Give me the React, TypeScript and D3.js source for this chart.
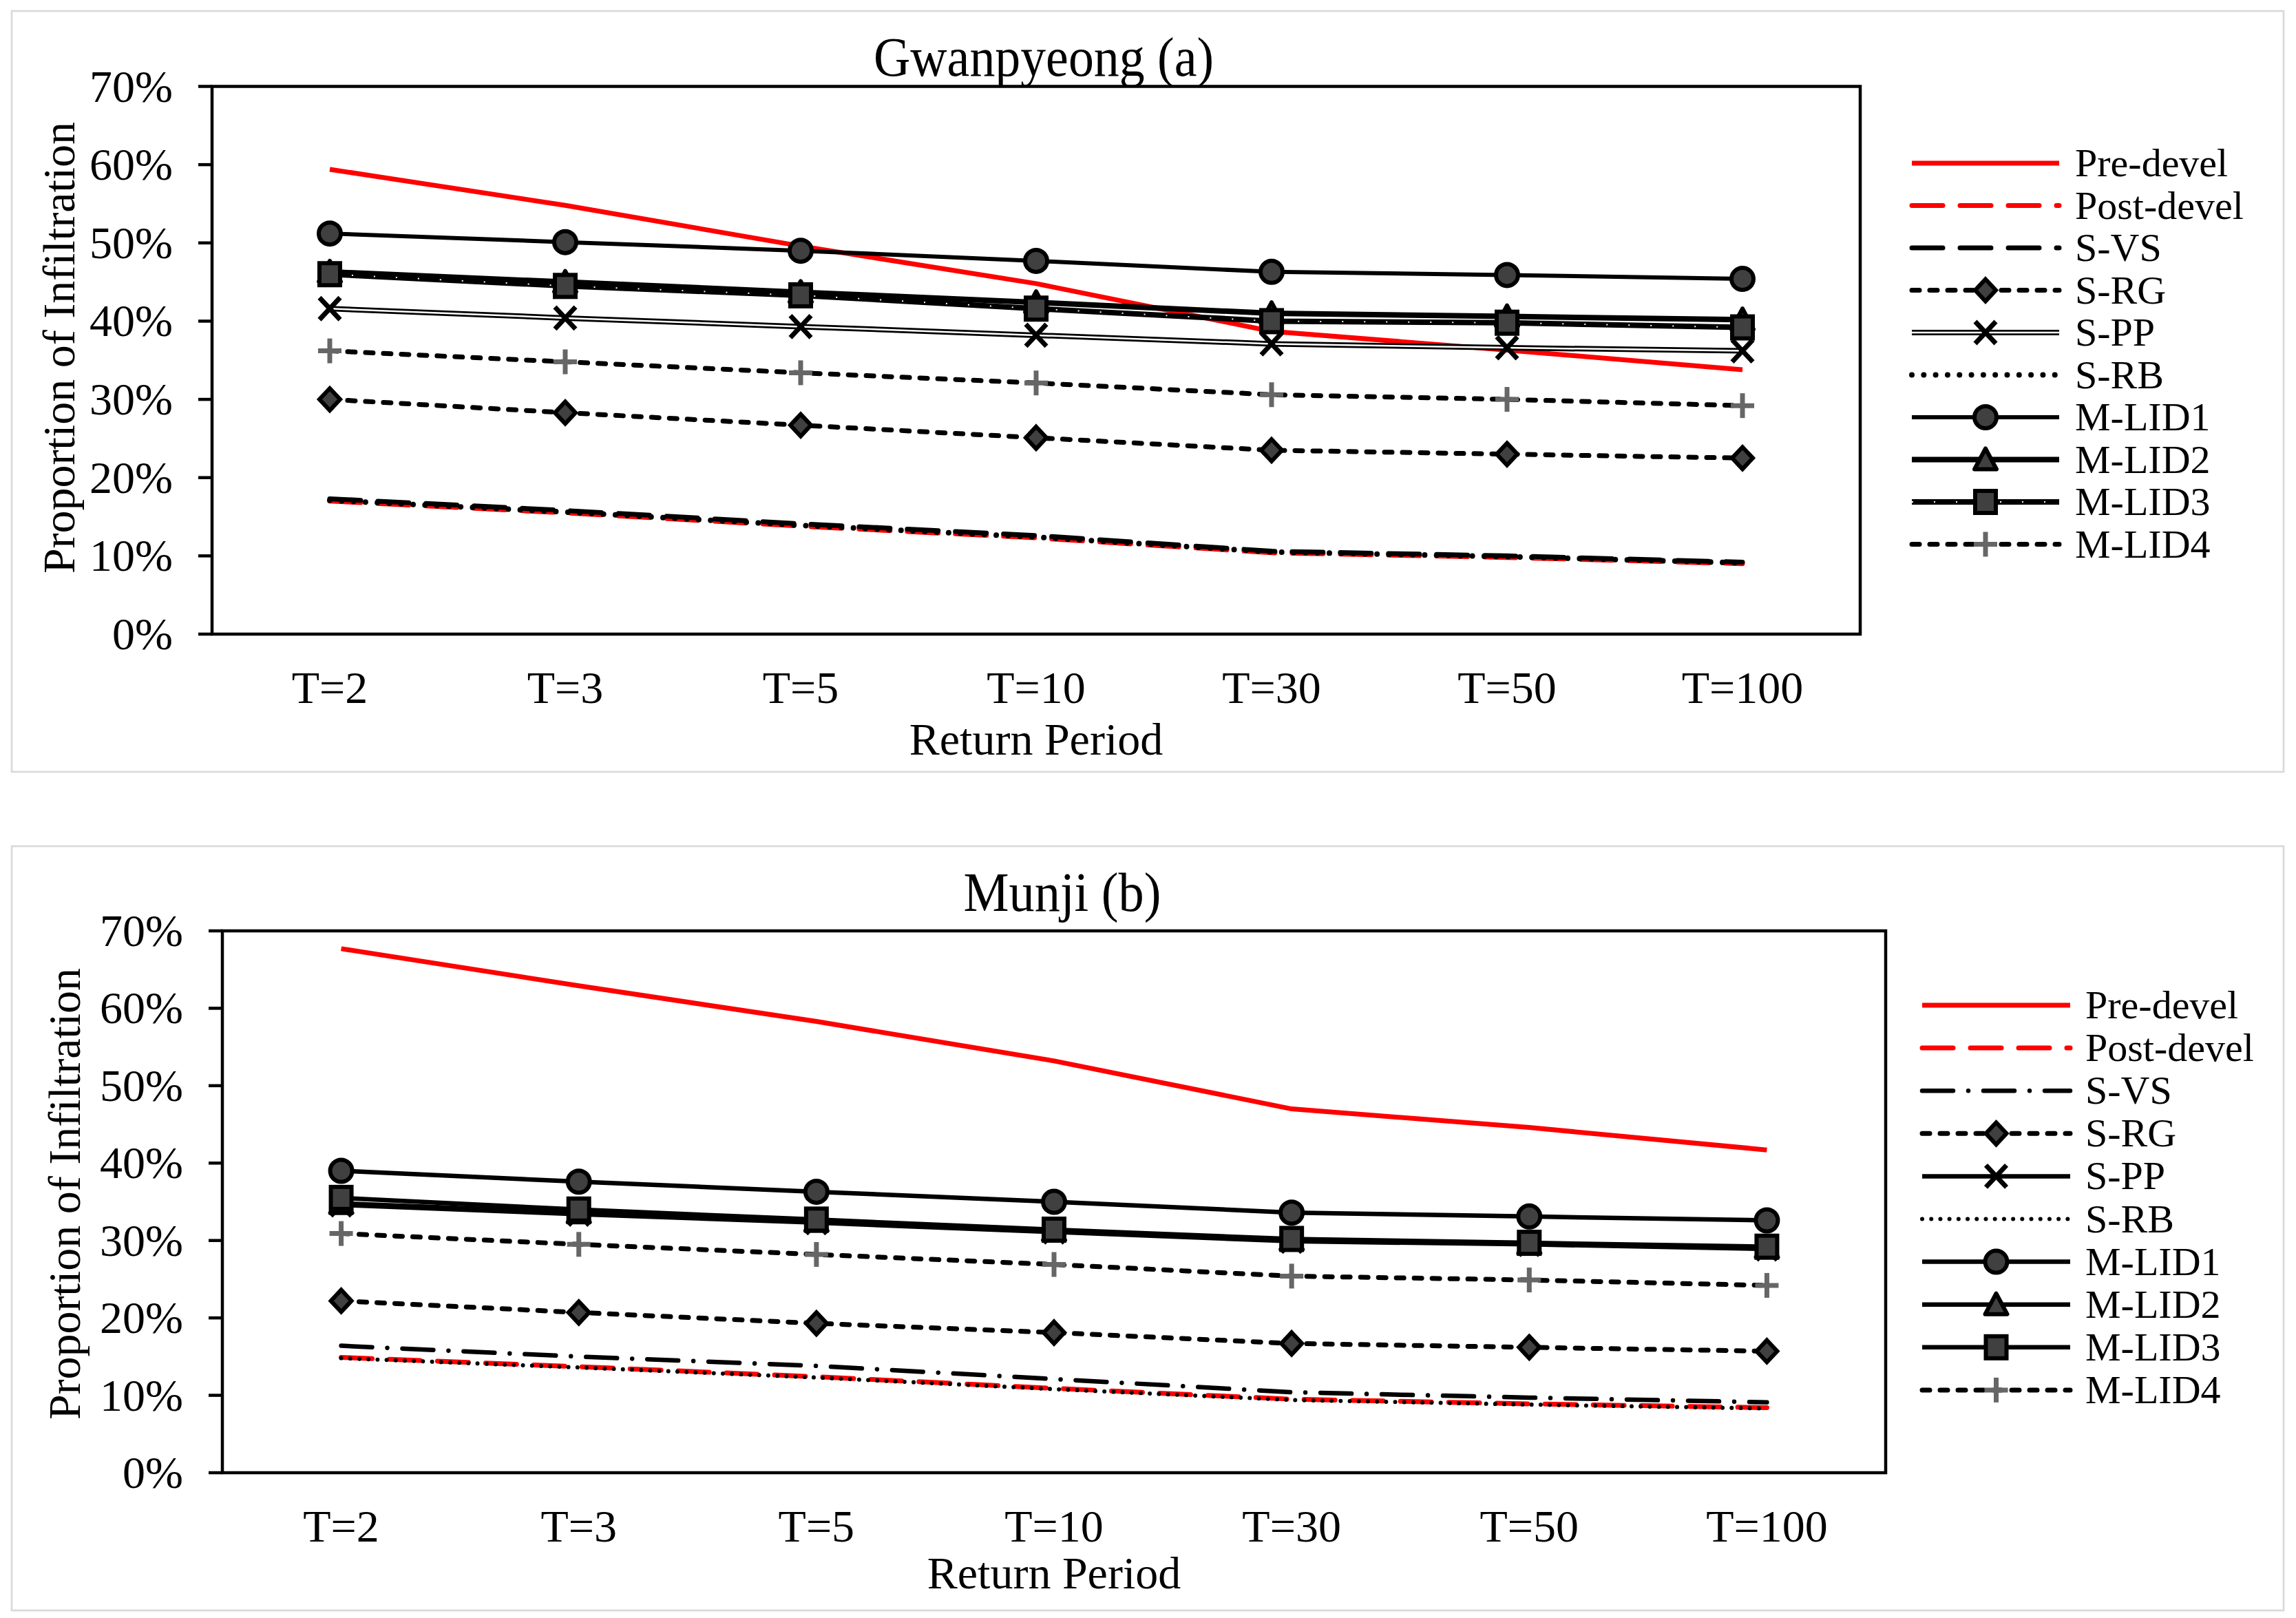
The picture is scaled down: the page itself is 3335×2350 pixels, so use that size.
import React from 'react';
import * as d3 from 'd3';

const categories = ['T=2', 'T=3', 'T=5', 'T=10', 'T=30', 'T=50', 'T=100'];
const yTickValues = [0, 10, 20, 30, 40, 50, 60, 70];
const seriesNames = ['Pre-devel', 'Post-devel', 'S-VS', 'S-RG', 'S-PP', 'S-RB', 'M-LID1', 'M-LID2', 'M-LID3', 'M-LID4'];

// Gwanpyeong (a) — proportion of infiltration (%)
const gPre = [59.4, 54.8, 49.6, 44.8, 38.7, 36.3, 33.8];
const gPost = [17.0, 15.5, 13.8, 12.3, 10.4, 9.8, 9.0];
const gSVS = [17.3, 15.8, 14.1, 12.6, 10.6, 10.0, 9.2];
const gSRG = [30.0, 28.3, 26.7, 25.1, 23.5, 23.0, 22.5];
const gSPP = [41.6, 40.4, 39.3, 38.2, 37.1, 36.6, 36.2];
const gSRB = [17.1, 15.6, 13.9, 12.4, 10.5, 9.9, 9.1];
const gM1 = [51.2, 50.1, 49.0, 47.7, 46.3, 45.9, 45.4];
const gM2 = [46.3, 45.0, 43.7, 42.4, 41.0, 40.6, 40.2];
const gM3 = [46.0, 44.5, 43.3, 41.6, 40.0, 39.8, 39.2];
const gM4 = [36.2, 34.8, 33.4, 32.1, 30.6, 30.0, 29.2];

// Munji (b)
const mPre = [67.7, 62.9, 58.3, 53.2, 47.0, 44.6, 41.7];
const mPost = [14.9, 13.7, 12.4, 10.9, 9.5, 8.9, 8.4];
const mSVS = [16.4, 15.0, 13.8, 12.1, 10.4, 9.7, 9.1];
const mSRG = [22.2, 20.7, 19.3, 18.1, 16.7, 16.2, 15.7];
const mSPP = [34.6, 33.4, 32.3, 31.1, 29.9, 29.5, 28.9];
const mSRB = [14.8, 13.6, 12.3, 10.8, 9.4, 8.8, 8.3];
const mM1 = [39.0, 37.6, 36.3, 35.0, 33.6, 33.1, 32.6];
const mM2 = [34.8, 33.6, 32.5, 31.3, 30.1, 29.6, 29.1];
const mM3 = [35.5, 34.0, 32.7, 31.4, 30.2, 29.7, 29.2];
const mM4 = [30.9, 29.5, 28.2, 26.9, 25.4, 24.9, 24.2];

const FONT = "'Liberation Serif', 'Times New Roman', serif";
const MFILL = '#404040';

type LineStyle = {
  color: string;
  width: number;
  dash?: string;
  inner?: { color: string; width: number; dash?: string };
  marker?: string;
};

const stylesA: LineStyle[] = [
  { color: '#ff0000', width: 7 },
  { color: '#ff0000', width: 7, dash: '45 25' },
  { color: '#000', width: 7, dash: '45 25' },
  { color: '#000', width: 7, dash: '11 15', marker: 'diamond' },
  { color: '#000', width: 8, inner: { color: '#fff', width: 2.5 }, marker: 'x' },
  { color: '#000', width: 8, dash: '0.01 17.3' },
  { color: '#000', width: 6, marker: 'circle' },
  { color: '#000', width: 8, marker: 'triangle' },
  { color: '#000', width: 8, inner: { color: '#fff', width: 2, dash: '2 30' }, marker: 'square' },
  { color: '#000', width: 7, dash: '11 15', marker: 'plus' },
];

const stylesB: LineStyle[] = [
  { color: '#ff0000', width: 7 },
  { color: '#ff0000', width: 7, dash: '45 25' },
  { color: '#000', width: 6.5, dash: '45 22 0.01 22' },
  { color: '#000', width: 7, dash: '11 15', marker: 'diamond' },
  { color: '#000', width: 6.5, marker: 'x' },
  { color: '#000', width: 6, dash: '0.01 13.2' },
  { color: '#000', width: 6.5, marker: 'circle' },
  { color: '#000', width: 6.5, marker: 'triangle' },
  { color: '#000', width: 6.5, marker: 'square' },
  { color: '#000', width: 7, dash: '11 15', marker: 'plus' },
];

function Marker({ type, x, y }: { type?: string; x: number; y: number }) {
  if (!type) return null;
  const sw = 6;
  switch (type) {
    case 'circle':
      return <circle cx={x} cy={y} r={16} fill={MFILL} stroke="#000" strokeWidth={sw} />;
    case 'diamond':
      return (
        <path d={`M${x},${y - 16}L${x + 15},${y}L${x},${y + 16}L${x - 15},${y}Z`} fill={MFILL} stroke="#000" strokeWidth={sw} strokeLinejoin="miter" />
      );
    case 'square':
      return <rect x={x - 15} y={y - 16} width={30} height={32} fill={MFILL} stroke="#000" strokeWidth={sw} />;
    case 'triangle':
      return (
        <path d={`M${x},${y - 16}L${x + 16},${y + 14}L${x - 16},${y + 14}Z`} fill={MFILL} stroke="#000" strokeWidth={sw} strokeLinejoin="round" />
      );
    case 'x':
      return (
        <g stroke="#000" strokeWidth={7}>
          <line x1={x - 15} y1={y - 16} x2={x + 15} y2={y + 16} />
          <line x1={x - 15} y1={y + 16} x2={x + 15} y2={y - 16} />
        </g>
      );
    case 'plus':
      return (
        <g stroke="#666666" strokeWidth={7}>
          <line x1={x - 17} y1={y} x2={x + 17} y2={y} />
          <line x1={x} y1={y - 18} x2={x} y2={y + 18} />
        </g>
      );
  }
  return null;
}

function StyledPath({ d, s }: { d: string; s: LineStyle }) {
  return (
    <g>
      <path d={d} fill="none" stroke={s.color} strokeWidth={s.width} strokeDasharray={s.dash} strokeLinecap={s.dash ? 'round' : 'butt'} strokeLinejoin="round" />
      {s.inner && (
        <path d={d} fill="none" stroke={s.inner.color} strokeWidth={s.inner.width} strokeDasharray={s.inner.dash} strokeLinejoin="round" />
      )}
    </g>
  );
}

type PanelProps = {
  box: [number, number, number, number];
  plot: { left: number; right: number; top: number; bottom: number };
  title: string;
  titleX: number;
  titleY: number;
  titleLen: number;
  yTitleX: number;
  yTitleY: number;
  xTitleY: number;
  series: number[][];
  styles: LineStyle[];
  legend: { x0: number; x1: number; tx: number; y0: number; dy: number };
};

function Panel(p: PanelProps) {
  const { plot } = p;
  const x = d3.scaleBand<string>().domain(categories).range([plot.left, plot.right]);
  const y = d3.scaleLinear().domain([0, 70]).range([plot.bottom, plot.top]);
  const cx = (c: string) => (x(c) as number) + x.bandwidth() / 2;
  const lineGen = d3
    .line<number>()
    .x((_, i) => cx(categories[i]))
    .y((v) => y(v));
  const xMid = (plot.left + plot.right) / 2;

  return (
    <g>
      <rect x={p.box[0]} y={p.box[1]} width={p.box[2] - p.box[0]} height={p.box[3] - p.box[1]} fill="#fff" stroke="#d9d9d9" strokeWidth={2.7} />
      <text x={p.titleX} y={p.titleY} fontFamily={FONT} fontSize={80} textAnchor="middle" textLength={p.titleLen} lengthAdjust="spacingAndGlyphs">
        {p.title}
      </text>
      {/* series */}
      {p.series.map((vals, si) => {
        const s = p.styles[si];
        return (
          <g key={seriesNames[si]}>
            <StyledPath d={lineGen(vals) as string} s={s} />
            {vals.map((v, i) => (
              <Marker key={i} type={s.marker} x={cx(categories[i])} y={y(v)} />
            ))}
          </g>
        );
      })}
      {/* axes frame */}
      <rect x={plot.left} y={plot.top} width={plot.right - plot.left} height={plot.bottom - plot.top} fill="none" stroke="#000" strokeWidth={4.5} />
      {yTickValues.map((t) => (
        <g key={t}>
          <line x1={plot.left - 20} x2={plot.left} y1={y(t)} y2={y(t)} stroke="#000" strokeWidth={4.5} />
          <text x={plot.left - 57} y={y(t) + 22} fontFamily={FONT} fontSize={66} textAnchor="end">
            {d3.format('.0%')(t / 100)}
          </text>
        </g>
      ))}
      {categories.map((c) => (
        <text key={c} x={cx(c)} y={plot.bottom + 100} fontFamily={FONT} fontSize={66} textAnchor="middle">
          {c}
        </text>
      ))}
      <text x={xMid} y={p.xTitleY} fontFamily={FONT} fontSize={66} textAnchor="middle">
        Return Period
      </text>
      <text transform={`translate(${p.yTitleX},${p.yTitleY}) rotate(-90)`} fontFamily={FONT} fontSize={66} textAnchor="middle">
        Proportion of Infiltration
      </text>
      {/* legend */}
      {seriesNames.map((name, i) => {
        const s = p.styles[i];
        const ly = p.legend.y0 + i * p.legend.dy;
        const d = `M${p.legend.x0},${ly}L${p.legend.x1},${ly}`;
        return (
          <g key={name}>
            <StyledPath d={d} s={s} />
            <Marker type={s.marker} x={(p.legend.x0 + p.legend.x1) / 2} y={ly} />
            <text x={p.legend.tx} y={ly + 19} fontFamily={FONT} fontSize={58}>
              {name}
            </text>
          </g>
        );
      })}
    </g>
  );
}

export default function App() {
  return (
    <svg width={3335} height={2350} viewBox="0 0 3335 2350" style={{ position: 'absolute', left: 0, top: 0, background: '#fff' }}>
      <rect x={0} y={0} width={3335} height={2350} fill="#fff" />
      <Panel
        box={[17, 16, 3317, 1121]}
        plot={{ left: 308, right: 2702, top: 125.5, bottom: 921 }}
        title="Gwanpyeong (a)"
        titleX={1516}
        titleY={110}
        titleLen={494}
        yTitleX={108}
        yTitleY={505}
        xTitleY={1096}
        series={[gPre, gPost, gSVS, gSRG, gSPP, gSRB, gM1, gM2, gM3, gM4]}
        styles={stylesA}
        legend={{ x0: 2777, x1: 2991, tx: 3014, y0: 237, dy: 61.5 }}
      />
      <Panel
        box={[17, 1229, 3317, 2339]}
        plot={{ left: 323, right: 2739, top: 1352, bottom: 2139 }}
        title="Munji (b)"
        titleX={1543}
        titleY={1323}
        titleLen={287}
        yTitleX={116}
        yTitleY={1734}
        xTitleY={2307}
        series={[mPre, mPost, mSVS, mSRG, mSPP, mSRB, mM1, mM2, mM3, mM4]}
        styles={stylesB}
        legend={{ x0: 2792, x1: 3007, tx: 3029, y0: 1460, dy: 62.1 }}
      />
    </svg>
  );
}
